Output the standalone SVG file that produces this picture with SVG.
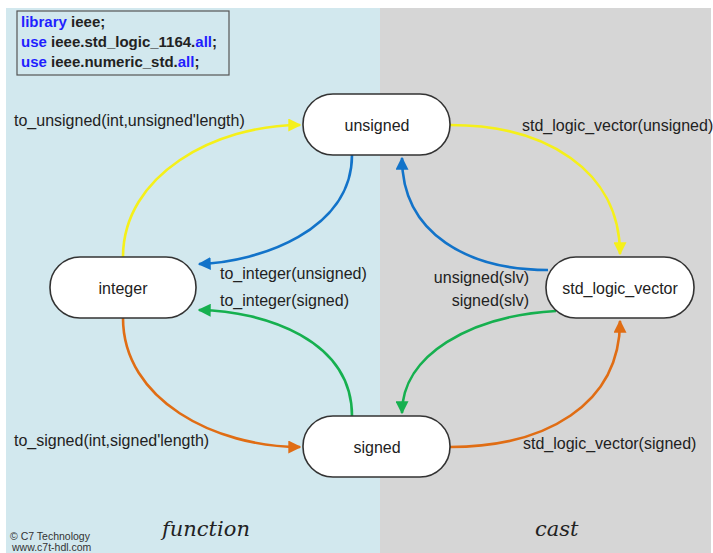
<svg xmlns="http://www.w3.org/2000/svg" width="713" height="553" viewBox="0 0 713 553">
<defs>
<style>
.node rect{fill:#fff;stroke:#333;stroke-width:1.6}
.node text{font-family:"Liberation Sans",Arial,sans-serif;font-size:16px;fill:#222;text-anchor:middle}
.lbl{font-family:"Liberation Sans",Arial,sans-serif;font-size:16px;fill:#222}
.code{font-family:"Liberation Sans",Arial,sans-serif;font-size:15px;font-weight:bold;fill:#222}
.kw{fill:#1f1fff}
.e{fill:none;stroke-width:2.6}
.y{stroke:#f5f01a}.b{stroke:#1273c9}.g{stroke:#16b04f}.o{stroke:#e06d14}
.script{font-family:"DejaVu Serif","Liberation Serif",serif;font-style:italic;font-size:21px;fill:#222}
.copy{font-family:"Liberation Sans",Arial,sans-serif;font-size:10.5px;fill:#333}
</style>
<marker id="ay" viewBox="0 0 10 10" refX="9" refY="5" markerWidth="5" markerHeight="5" orient="auto" markerUnits="strokeWidth"><path d="M0,0 L10,5 L0,10 z" fill="#f5f01a"/></marker>
<marker id="ab" viewBox="0 0 10 10" refX="9" refY="5" markerWidth="5" markerHeight="5" orient="auto" markerUnits="strokeWidth"><path d="M0,0 L10,5 L0,10 z" fill="#1273c9"/></marker>
<marker id="ag" viewBox="0 0 10 10" refX="9" refY="5" markerWidth="5" markerHeight="5" orient="auto" markerUnits="strokeWidth"><path d="M0,0 L10,5 L0,10 z" fill="#16b04f"/></marker>
<marker id="ao" viewBox="0 0 10 10" refX="9" refY="5" markerWidth="5" markerHeight="5" orient="auto" markerUnits="strokeWidth"><path d="M0,0 L10,5 L0,10 z" fill="#e06d14"/></marker>
</defs>
<rect x="0" y="0" width="713" height="553" fill="#fff"/>
<rect x="6" y="8" width="374" height="545" fill="#d2e8ee"/>
<rect x="380" y="8" width="331" height="545" fill="#d6d6d6"/>
<g id="code">
<rect x="17" y="11" width="212" height="64" fill="none" stroke="#555" stroke-width="1.2"/>
<text class="code" x="21" y="27"><tspan class="kw">library</tspan> ieee;</text>
<text class="code" x="21" y="47"><tspan class="kw">use</tspan> ieee.std_logic_1164.<tspan class="kw">all</tspan>;</text>
<text class="code" x="21" y="67"><tspan class="kw">use</tspan> ieee.numeric_std.<tspan class="kw">all</tspan>;</text>
</g>
<g id="connectors">
<path class="e y" d="M123,257 C123,175 215,125 300,125" marker-end="url(#ay)"/>
<path class="e y" d="M450,125 C545,125 620,170 620,254" marker-end="url(#ay)"/>
<path class="e b" d="M352,155 C352,230 260,262 199,264" marker-end="url(#ab)"/>
<path class="e b" d="M548,270 C470,270 402,235 402,158" marker-end="url(#ab)"/>
<path class="e g" d="M352,416 C352,340 265,311 199,310" marker-end="url(#ag)"/>
<path class="e g" d="M556,311 C470,316 402,355 402,413" marker-end="url(#ag)"/>
<path class="e o" d="M123,318 C123,400 215,447 300,447" marker-end="url(#ao)"/>
<path class="e o" d="M450,447 C545,447 620,405 620,321" marker-end="url(#ao)"/>
</g>
<g id="unsigned" class="node"><rect x="303" y="94" width="147" height="61" rx="30"/><text x="377" y="131">unsigned</text></g>
<g id="integer" class="node"><rect x="50" y="257" width="146" height="61" rx="30"/><text x="123" y="294">integer</text></g>
<g id="std_logic_vector" class="node"><rect x="546" y="257" width="148" height="61" rx="30"/><text x="620" y="294">std_logic_vector</text></g>
<g id="signed" class="node"><rect x="303" y="416" width="147" height="61" rx="30"/><text x="377" y="453">signed</text></g>
<g id="labels">
<text class="lbl" x="14" y="126">to_unsigned(int,unsigned'length)</text>
<text class="lbl" x="522" y="131">std_logic_vector(unsigned)</text>
<text class="lbl" x="220" y="279">to_integer(unsigned)</text>
<text class="lbl" x="220" y="306">to_integer(signed)</text>
<text class="lbl" x="529" y="283" text-anchor="end">unsigned(slv)</text>
<text class="lbl" x="529" y="306" text-anchor="end">signed(slv)</text>
<text class="lbl" x="14" y="446">to_signed(int,signed'length)</text>
<text class="lbl" x="523" y="449">std_logic_vector(signed)</text>
<text class="script" x="162" y="536">function</text>
<text class="script" x="535" y="536">cast</text>
<text class="copy" x="10" y="540">© C7 Technology</text>
<text class="copy" x="12" y="551">www.c7t-hdl.com</text>
</g>
</svg>
